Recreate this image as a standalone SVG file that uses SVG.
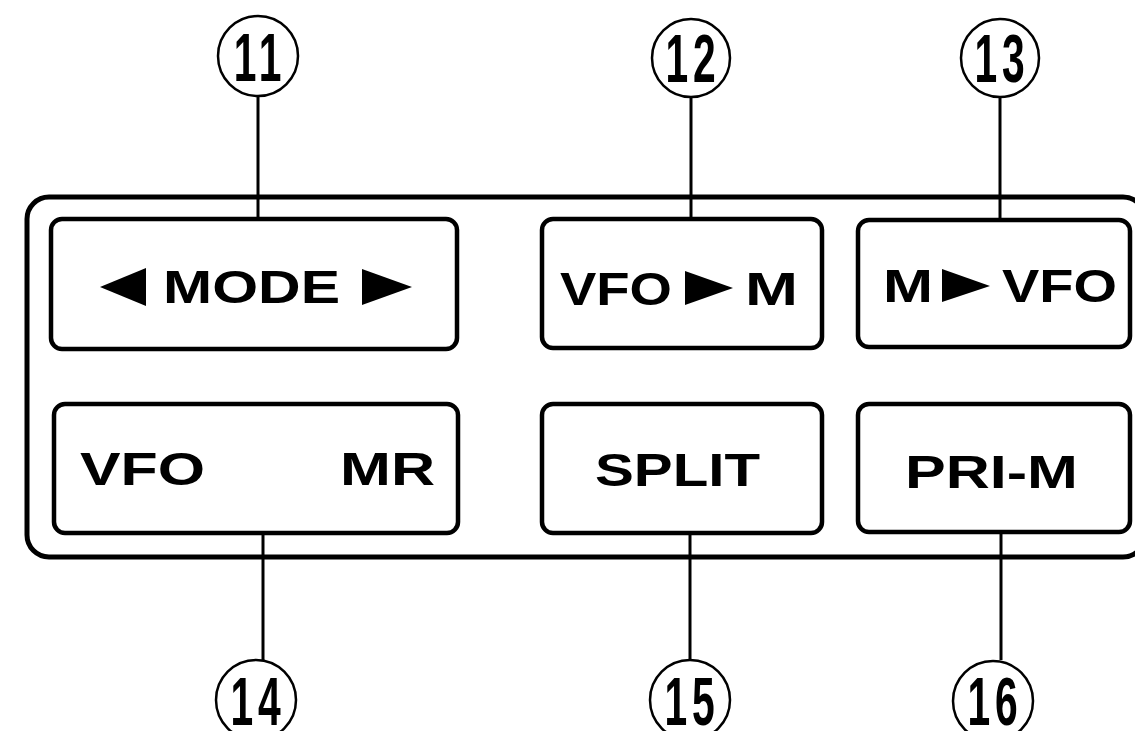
<svg xmlns="http://www.w3.org/2000/svg" width="1135" height="731" viewBox="0 0 1135 731">
<style>
.panel{fill:none;stroke:#000;stroke-width:5}
.btn{fill:#fff;stroke:#000;stroke-width:4.5}
.lead{stroke:#000;stroke-width:3;fill:none}
.circ{fill:#fff;stroke:#000;stroke-width:2.5}
.lbl{font-family:"Liberation Sans",Arial,sans-serif;font-weight:bold;font-size:46px;fill:#000}
.num{font-family:"Liberation Sans",Arial,sans-serif;font-weight:bold;font-size:68px;fill:#000;text-anchor:middle;letter-spacing:8px}
.tri{fill:#000}
</style>
<rect id="panel" class="panel" x="27" y="197" width="1118" height="360" rx="22"/>
<g id="connectors">
<line class="lead" x1="258" y1="97" x2="258" y2="250"/>
<line class="lead" x1="691" y1="98" x2="691" y2="248"/>
<line class="lead" x1="1000" y1="98" x2="1000" y2="252"/>
<line class="lead" x1="263" y1="505" x2="263" y2="660"/>
<line class="lead" x1="690" y1="512" x2="690" y2="660"/>
<line class="lead" x1="1001" y1="510" x2="1001" y2="660"/>
</g>
<g id="btn-mode">
<rect class="btn" x="51" y="219" width="406" height="130" rx="11"/>
<polygon class="tri" points="100,287 146,268 146,306"/>
<text class="lbl" x="163" y="303" textLength="177" lengthAdjust="spacingAndGlyphs">MODE</text>
<polygon class="tri" points="362,269 412,287 362,305"/>
</g>
<g id="btn-vfom">
<rect class="btn" x="542" y="219" width="280" height="129" rx="11"/>
<text class="lbl" x="560" y="305" textLength="112" lengthAdjust="spacingAndGlyphs">VFO</text>
<polygon class="tri" points="685,271 733,288 685,305"/>
<text class="lbl" x="745" y="305" textLength="53" lengthAdjust="spacingAndGlyphs">M</text>
</g>
<g id="btn-mvfo">
<rect class="btn" x="858" y="220" width="272" height="127" rx="11"/>
<text class="lbl" x="883" y="302" textLength="50" lengthAdjust="spacingAndGlyphs">M</text>
<polygon class="tri" points="942,269 990,286 942,302"/>
<text class="lbl" x="1002" y="302" textLength="115" lengthAdjust="spacingAndGlyphs">VFO</text>
</g>
<g id="btn-vfomr">
<rect class="btn" x="54" y="404" width="404" height="129" rx="11"/>
<text class="lbl" x="80" y="485" textLength="125" lengthAdjust="spacingAndGlyphs">VFO</text>
<text class="lbl" x="340" y="485" textLength="95" lengthAdjust="spacingAndGlyphs">MR</text>
</g>
<g id="btn-split">
<rect class="btn" x="542" y="404" width="280" height="129" rx="11"/>
<text class="lbl" x="595" y="486" textLength="165" lengthAdjust="spacingAndGlyphs">SPLIT</text>
</g>
<g id="btn-prim">
<rect class="btn" x="858" y="404" width="272" height="128" rx="11"/>
<text class="lbl" x="905" y="488" textLength="173" lengthAdjust="spacingAndGlyphs">PRI-M</text>
</g>
<g id="c11"><circle class="circ" cx="258" cy="56" r="40"/><text class="num" transform="translate(260,81) scale(0.6,1)">11</text></g>
<g id="c12"><circle class="circ" cx="691" cy="58" r="39"/><text class="num" transform="translate(693,82) scale(0.6,1)">12</text></g>
<g id="c13"><circle class="circ" cx="1000" cy="58" r="39"/><text class="num" transform="translate(1002,82) scale(0.6,1)">13</text></g>
<g id="c14"><circle class="circ" cx="256" cy="700" r="40"/><text class="num" transform="translate(258,725) scale(0.6,1)">14</text></g>
<g id="c15"><circle class="circ" cx="690" cy="700" r="40"/><text class="num" transform="translate(692,725) scale(0.6,1)">15</text></g>
<g id="c16"><circle class="circ" cx="993" cy="701" r="40"/><text class="num" transform="translate(995,725) scale(0.6,1)">16</text></g>
</svg>
